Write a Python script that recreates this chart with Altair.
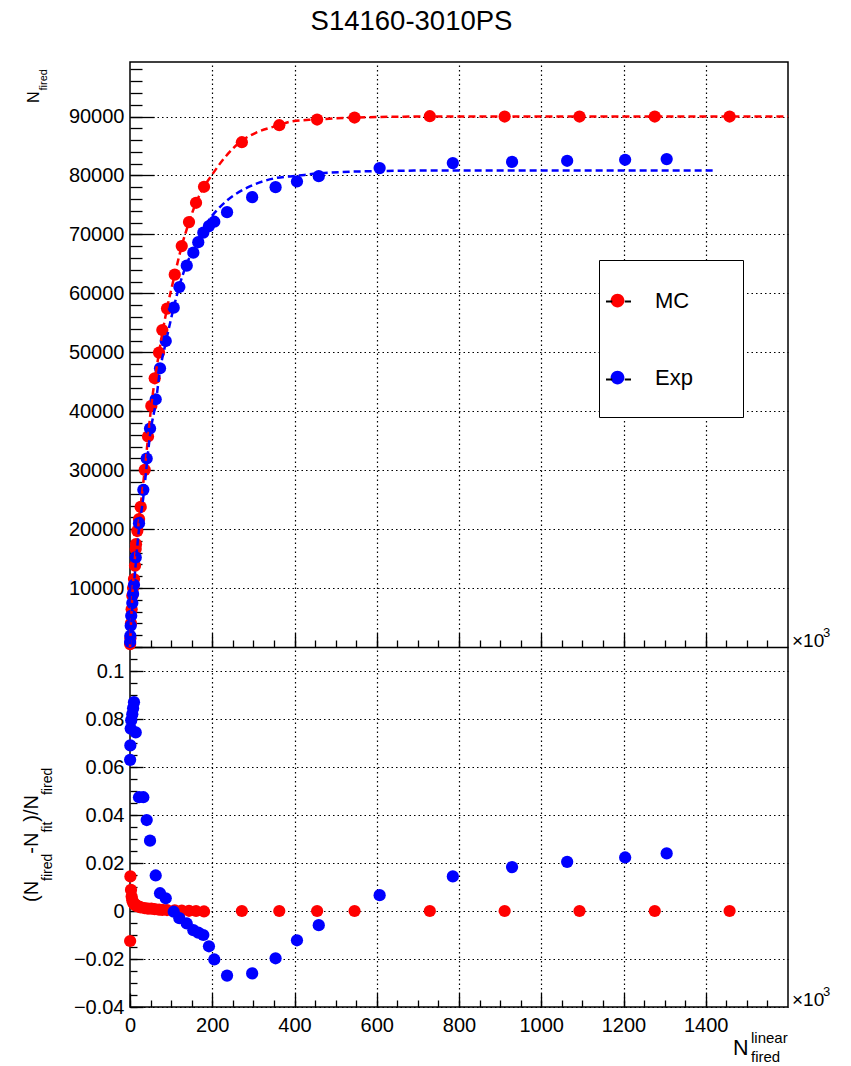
import altair as alt
import pandas as pd

# ---------------- data (x values in units of 10^3) ----------------
series_names = ["MC", "Exp"]
series_colors = ["#ff0000", "#0000ff"]

mc_x = [0.3, 1.0, 2.4, 4.0, 5.6, 7.5, 9.7, 12.2, 13.9, 14.6, 17.8, 22.0, 26.0,
        35.8, 43.8, 51.8, 60.1, 70.6, 78.6, 90.0, 108.8, 125.8, 143.5, 160.6,
        180.0, 272.0, 363.0, 455.0, 546.0, 729.0, 911.0, 1093.0, 1276.0, 1458.0]
mc_y = [500, 1500, 4000, 6400, 8690, 10000, 11520, 13780, 16610, 17450, 19710,
        21700, 23770, 30050, 35710, 40900, 45590, 49950, 53780, 57410, 63170,
        68020, 72090, 75370, 78080, 85640, 88525, 89490, 89830, 90050, 90000,
        90000, 90000, 90000]
mc_res = [-0.0125, 0.0144, 0.0088, 0.006, 0.0045, 0.0035, 0.003, 0.0028, 0.0025,
          0.0022, 0.002, 0.0018, 0.0015, 0.0012, 0.001, 0.001, 0.0008, 0.0006,
          0.0005, 0.0004, 0.0003, 0.0002, 0.0001, 0.0, -0.0002, 0.0, 0.0, 0.0,
          0.0, 0.0, 0.0, 0.0, 0.0, 0.0]

exp_x = [0.3, 0.8, 1.7, 3.0, 5.6, 7.5, 9.7, 13.9, 21.9, 32.4, 40.6, 48.7, 62.5,
         73.0, 86.9, 106.3, 120.0, 138.0, 154.0, 166.0, 178.3, 192.0, 205.0,
         236.0, 297.0, 354.0, 406.0, 459.0, 607.0, 785.0, 929.0, 1063.0, 1204.0,
         1305.0]
exp_y = [850, 1900, 3600, 5300, 7450, 9000, 10560, 15200, 21010, 26660, 31980,
         37070, 42030, 47290, 51910, 57570, 61070, 64690, 66900, 68690, 70290,
         71410, 72150, 73780, 76320, 78020, 78980, 79880, 81250, 82100, 82300,
         82490, 82660, 82780]
exp_res = [0.063, 0.069, 0.076, 0.0795, 0.082, 0.0845, 0.087, 0.0744, 0.0474,
           0.0474, 0.0379, 0.0293, 0.0148, 0.0074, 0.0053, -0.0003, -0.003,
           -0.0052, -0.008, -0.009, -0.010, -0.0147, -0.0202, -0.0269, -0.026,
           -0.0197, -0.0122, -0.0059, 0.0066, 0.0144, 0.0183, 0.0205, 0.0223,
           0.024]

mc_fit_x = [0, 5.6, 13.9, 22, 35.8, 51.8, 70.6, 90, 108.8, 125.8, 143.5, 160.6,
            180, 200, 230, 272, 306, 362, 394, 453, 544, 727, 1000, 1600]
mc_fit_y = [0, 8690, 16610, 21700, 30050, 40900, 49950, 57410, 63170, 68020,
            72090, 75370, 78080, 80170, 83000, 85900, 87240, 88525, 89200, 89500,
            89830, 90000, 90000, 90000]

exp_fit_x = [0.5, 5.6, 13.9, 21.9, 32.4, 40.6, 48.7, 62.5, 73, 86.9, 106.3, 120,
             138, 154, 166, 178.3, 192, 205, 236, 297, 354, 406, 459, 607, 785,
             1000, 1425]
exp_fit_y = [450, 6840, 14075, 20014, 25396, 30768, 35984, 41408, 46940, 51635,
             57587, 61253, 65026, 67435, 69308, 70993, 72460, 73607, 75765, 78304,
             79557, 79944, 80351, 80755, 80857, 80860, 80860]

x_major = [0, 200, 400, 600, 800, 1000, 1200, 1400]
x_grid = [200, 400, 600, 800, 1000, 1200, 1400]
x_minor = [0, 50, 100, 150, 200, 250, 300, 350, 400, 450, 500, 550, 600, 650,
           700, 750, 800, 850, 900, 950, 1000, 1050, 1100, 1150, 1200, 1250,
           1300, 1350, 1400, 1450, 1500, 1550]
top_major = [0, 10000, 20000, 30000, 40000, 50000, 60000, 70000, 80000, 90000]
top_labels = [10000, 20000, 30000, 40000, 50000, 60000, 70000, 80000, 90000]
top_minor = [2000 * i for i in range(50)]
res_major = [-0.04, -0.02, 0.0, 0.02, 0.04, 0.06, 0.08, 0.1]
res_minor = [-0.04, -0.035, -0.03, -0.025, -0.02, -0.015, -0.01, -0.005, 0.0,
             0.005, 0.01, 0.015, 0.02, 0.025, 0.03, 0.035, 0.04, 0.045, 0.05,
             0.055, 0.06, 0.065, 0.07, 0.075, 0.08, 0.085, 0.09, 0.095, 0.1,
             0.105]

# ---------------- layout ----------------
FONT = "Liberation Sans"
W, H_TOP, H = 658, 585, 945
X_DOM = [0, 1600]
TOP_DOM = [0, 99250]
RES_DOM = [-0.04, 0.11]
GRID_DASH = [1.5, 3]
PT = 150

# keys of the (invisible-label) line part of the legend, distinct from series
line_keys = [s + " " for s in series_names]

top_mc = pd.DataFrame({"x": mc_x, "y": mc_y, "series": "MC"})
top_exp = pd.DataFrame({"x": exp_x, "y": exp_y, "series": "Exp"})
res_mc = pd.DataFrame({"x": mc_x, "r": mc_res})
res_exp = pd.DataFrame({"x": exp_x, "r": exp_res})
fit_mc = pd.DataFrame({"x": mc_fit_x, "y": mc_fit_y})
fit_exp = pd.DataFrame({"x": exp_fit_x, "y": exp_fit_y})
leg_df = pd.DataFrame({"entry": line_keys, "x": [mc_x[0], exp_x[0]],
                       "r": [mc_res[0], exp_res[0]]})


def xs():
    return alt.Scale(domain=X_DOM, nice=False, zero=False)


def ys_top():
    return alt.Scale(domain=TOP_DOM, range=[H_TOP, 0], nice=False, zero=False)


def ys_res():
    return alt.Scale(domain=RES_DOM, range=[H, H_TOP], nice=False, zero=False)


def tick_axis(orient, offset, values, size, domain=False):
    return alt.Axis(orient=orient, offset=offset, values=values, tickSize=size,
                    tickWidth=1.3, tickColor="black", labels=False,
                    domain=domain, domainColor="black", domainWidth=1.5,
                    grid=False, title=None)


def grid_axis(orient, values):
    return alt.Axis(orient=orient, values=values, labels=False, ticks=False,
                    domain=False, grid=True, gridColor="black",
                    gridDash=GRID_DASH, gridWidth=1.2, gridOpacity=1,
                    title=None)


def label_axis(orient, values, fmt, pad, grid):
    return alt.Axis(orient=orient, values=values, format=fmt, labelFont=FONT,
                    labelFontSize=20, labelColor="black", labelPadding=pad,
                    labelFlush=False, labelOverlap=False, ticks=False,
                    tickSize=0, domain=False, grid=grid, gridColor="black",
                    gridDash=GRID_DASH, gridWidth=1.2, gridOpacity=1,
                    title=None)


LEG_COMMON = dict(orient="none", legendX=469, legendY=198,
                  symbolSize=625, labelFont=FONT, labelFontSize=22,
                  labelColor="black", labelOffset=25, rowPadding=53,
                  padding=28, symbolOffset=-22, direction="vertical")

circle_legend = alt.Legend(
    symbolType="M0.55,0A0.55,0.55,0,1,1,-0.55,0A0.55,0.55,0,1,1,0.55,0Z",
    symbolStrokeWidth=0, strokeColor="black", fillColor="white",
    title="M", titleOrient="right", titleOpacity=0, titleFont=FONT,
    titleFontSize=22, titlePadding=3, **LEG_COMMON)
line_legend = alt.Legend(
    symbolType="M-1,0L-0.5,0M0.5,0L1,0", symbolStrokeWidth=2,
    symbolStrokeColor="black", labelOpacity=0, title=None, **LEG_COMMON)

color_enc = alt.Color("series:N",
                      scale=alt.Scale(domain=series_names, range=series_colors),
                      legend=circle_legend)

red_top = alt.Chart(top_mc).mark_circle(size=PT, opacity=1).encode(
    x=alt.X("x:Q", scale=xs(), axis=label_axis("bottom", x_major, "d", 8, False)),
    y=alt.Y("y:Q", scale=ys_top(), axis=label_axis("left", top_labels, "d", 6, True)),
    color=color_enc,
)
blue_top = alt.Chart(top_exp).mark_circle(size=PT, opacity=1).encode(
    x=alt.X("x:Q", scale=xs(), axis=tick_axis("top", -H_TOP, x_major, 14, True)),
    y=alt.Y("y:Q", scale=ys_top(), axis=tick_axis("right", -W, top_major, 24)),
    color=color_enc,
)
red_fit = alt.Chart(fit_mc).mark_line(color="#ff0000", strokeWidth=2.5,
                                      strokeDash=[7, 4], interpolate="monotone").encode(
    x=alt.X("x:Q", scale=xs(), axis=tick_axis("top", -H_TOP, x_minor, 7)),
    y=alt.Y("y:Q", scale=ys_top(), axis=tick_axis("right", -W, top_minor, 12)),
)
blue_fit = alt.Chart(fit_exp).mark_line(color="#0000ff", strokeWidth=2.5,
                                        strokeDash=[7, 4], interpolate="monotone").encode(
    x=alt.X("x:Q", scale=xs(), axis=grid_axis("top", x_grid)),
    y=alt.Y("y:Q", scale=ys_top(), axis=None),
)
red_res = alt.Chart(res_mc).mark_circle(size=PT, opacity=1, color="#ff0000").encode(
    x=alt.X("x:Q", scale=xs(), axis=tick_axis("top", -H, x_minor, 7)),
    y=alt.Y("r:Q", scale=ys_res(), axis=label_axis("left", res_major, "~g", 6, True)),
)
blue_res = alt.Chart(res_exp).mark_circle(size=PT, opacity=1, color="#0000ff").encode(
    x=alt.X("x:Q", scale=xs(), axis=grid_axis("top", x_grid)),
    y=alt.Y("r:Q", scale=ys_res(), axis=tick_axis("right", -W, res_major, 13)),
)
leg_lines = alt.Chart(leg_df).mark_line(color="black", strokeWidth=2).encode(
    x=alt.X("x:Q", scale=xs(), axis=tick_axis("top", -H, x_major, 14)),
    y=alt.Y("r:Q", scale=ys_res(), axis=tick_axis("right", -W, res_minor, 7)),
    strokeDash=alt.StrokeDash("entry:N",
                              scale=alt.Scale(domain=line_keys, range=[[1, 0], [1, 0]]),
                              legend=line_legend),
)

ONE = pd.DataFrame({"k": [0]})


def label(txt, x, y, size, angle=0, align="left"):
    return alt.Chart(ONE).mark_text(text=txt, font=FONT, fontSize=size,
                                    angle=angle, align=align,
                                    baseline="alphabetic", color="black").encode(
        x=alt.value(x), y=alt.value(y))


WID = {"(": 0.333, ")": 0.333, "N": 0.722, "f": 0.278, "i": 0.222, "r": 0.333,
       "e": 0.556, "d": 0.556, "-": 0.333, "t": 0.278, "/": 0.278}


def tw(s, fs):
    return sum(WID[c] for c in s) * fs


texts = []
texts.append(label("S14160-3010PS", 281.5, -32, 27.5, align="center"))

# top y title  N_fired (rotated)
y0 = 41
texts.append(label("N", -91.3, y0, 16, angle=270))
texts.append(label("fired", -82.7, y0 - tw("N", 16) - 1, 11, angle=270))

# bottom y title (N_fired-N_fit)/N_fired (rotated)
B, S = 20, 14
pos = 840
for txt, sub in [("(N", False), ("fired", True), ("-N", False), ("fit", True),
                 (")/N", False), ("fired", True)]:
    fs = S if sub else B
    texts.append(label(txt, -78.3 if sub else -92, pos, fs, angle=270))
    pos -= tw(txt, fs)

# x title N_fired^linear
texts.append(label("N", 603, 993, 21.5))
texts.append(label("linear", 621, 981, 15))
texts.append(label("fired", 621, 1000, 15))

# x10^3 markers
for base in (585, 944):
    texts.append(label("\u00d710", 662, base, 19))
    texts.append(label("3", 693, base - 10, 13))

chart = alt.layer(red_top, blue_top, red_fit, blue_fit, red_res, blue_res,
                  leg_lines, *texts).resolve_scale(
    x="independent", y="independent", color="shared", strokeDash="shared"
).properties(
    width=W, height=H,
    autosize=alt.AutoSizeParams(type="none"),
    padding={"left": 130, "top": 62, "right": 63, "bottom": 59},
).configure_view(stroke="black", strokeWidth=1.5)

chart.save("out.html", embed_options={"renderer": "svg", "actions": False})
